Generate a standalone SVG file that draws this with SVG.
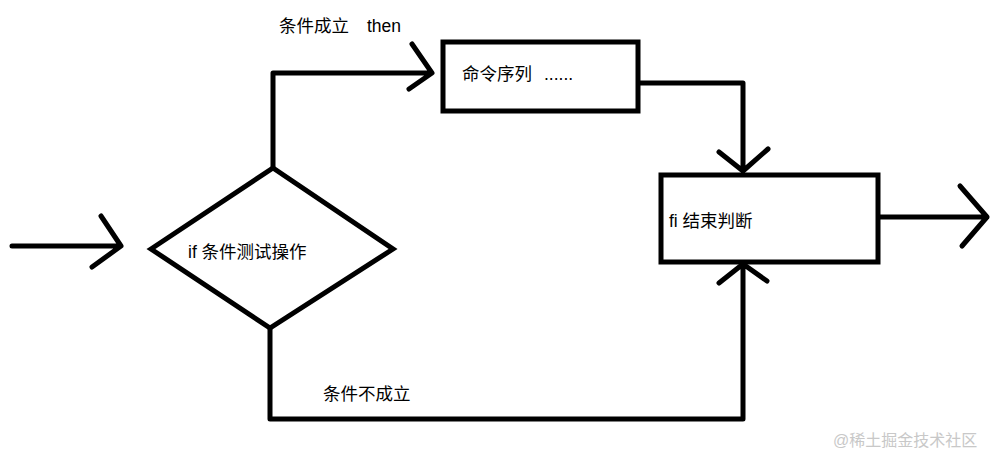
<svg xmlns="http://www.w3.org/2000/svg" width="999" height="460" viewBox="0 0 999 460">
<style>
.s{fill:none;stroke:#000;stroke-width:5;stroke-linecap:round;stroke-linejoin:round}
.b{fill:#fff;stroke:#000;stroke-width:5}
.t{font-family:"Liberation Sans","Noto Sans CJK SC",sans-serif;font-size:17.5px;fill:#000}
.w{font-family:"Liberation Sans","Noto Sans CJK SC",sans-serif;font-size:16px;fill:#c8c8c8}
</style>
<rect width="999" height="460" fill="#fff"/>
<g id="connectors">
<path class="s" d="M12,246 H120 M101,216 L121,246 L92,267"/>
<path class="s" d="M273,168 V73 H431 M412,44 L432,73 L409,89"/>
<path class="s" d="M638,83 H743 V171 M719,152 L743,171 L768,149"/>
<path class="s" d="M878,217 H987 M960,186 L987,217 L962,246"/>
<path class="s" d="M270,328 V419 H743 V264 M719,283 L743,264 L767,281"/>
<text class="t" x="279" y="32">条件成立<tspan x="367">then</tspan></text>
<text class="t" x="323" y="400">条件不成立</text>
</g>
<g id="decision">
<polygon class="b" points="151,249 273,168 393,249 270,328" stroke-linejoin="miter"/>
<text class="t" x="188" y="258">if 条件测试操作</text>
</g>
<g id="commands">
<rect class="b" x="443" y="42" width="195" height="69"/>
<text class="t" x="462" y="80">命令序列<tspan x="544">......</tspan></text>
</g>
<g id="fi">
<rect class="b" x="661" y="175" width="217" height="87"/>
<text class="t" x="669" y="227">fi 结束判断</text>
</g>
<text class="w" x="833" y="446">@稀土掘金技术社区</text>
</svg>
